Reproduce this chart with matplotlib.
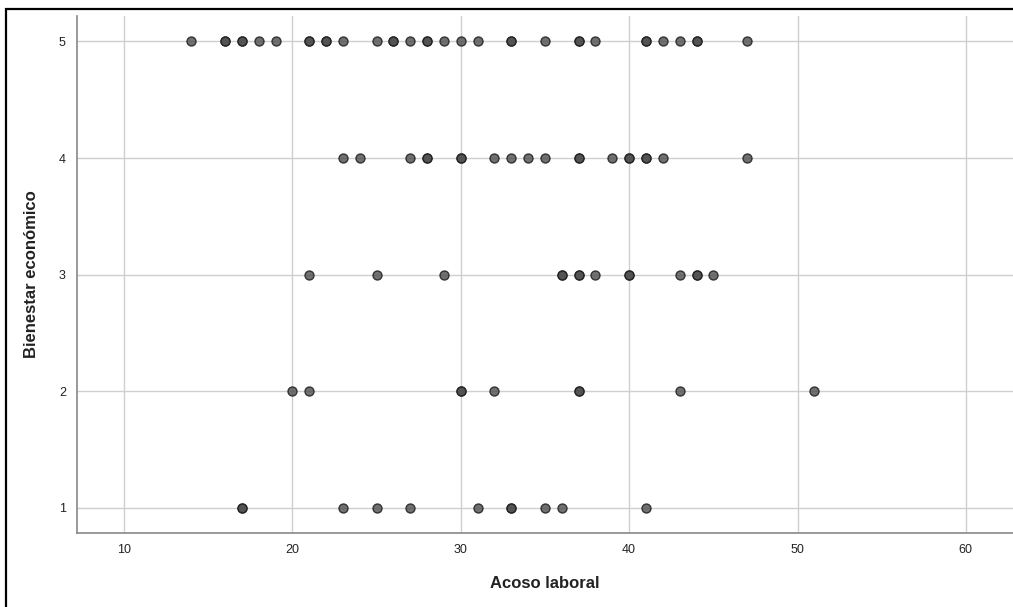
import matplotlib
matplotlib.use("Agg")
import matplotlib.pyplot as plt
from matplotlib.patches import Rectangle

plt.rcParams['font.family'] = ['Liberation Sans', 'DejaVu Sans']

# Acoso laboral values per level of Bienestar económico (repeats = overlapping cases)
acoso_5 = [14, 16, 16, 17, 17, 18, 19, 21, 21, 22, 22, 23, 25, 26, 26, 27, 28, 28, 29, 30,
           31, 33, 33, 35, 37, 37, 38, 41, 41, 42, 43, 44, 44, 47]
acoso_4 = [23, 24, 27, 28, 28, 30, 30, 32, 33, 34, 35, 37, 37, 39, 40, 40, 41, 41, 42, 47]
acoso_3 = [21, 25, 29, 36, 36, 37, 37, 38, 40, 40, 43, 44, 44, 45]
acoso_2 = [20, 21, 30, 30, 32, 37, 37, 43, 51]
acoso_1 = [17, 17, 23, 25, 27, 31, 33, 33, 35, 36, 41]

niveles = [5, 4, 3, 2, 1]
grupos = [acoso_5, acoso_4, acoso_3, acoso_2, acoso_1]

xticks = [10, 20, 30, 40, 50, 60]
yticks = [1, 2, 3, 4, 5]

fig = plt.figure(figsize=(10.13, 6.07), dpi=100)
ax = fig.add_axes([0.076, 0.122, 0.924, 0.852])

for nivel, vals in zip(niveles, grupos):
    ax.scatter(vals, [nivel] * len(vals), s=42, facecolor=(0.3, 0.3, 0.3, 0.8),
               edgecolor=(0.12, 0.12, 0.12, 0.85), linewidth=1.0, zorder=3)

ax.set_xlim(7.2, 62.8)
ax.set_ylim(0.785, 5.22)
ax.set_xticks(xticks)
ax.set_yticks(yticks)
ax.grid(True, color="#cfcfcf", linewidth=1.0, zorder=0)
ax.set_axisbelow(True)
ax.tick_params(length=0, labelsize=9, pad=8, colors="#222222")

for side in ["top", "right"]:
    ax.spines[side].set_visible(False)
for side in ["left", "bottom"]:
    ax.spines[side].set_color("#888888")
    ax.spines[side].set_linewidth(1.2)

ax.set_xlabel("Acoso laboral", fontsize=12, fontweight="bold", labelpad=14, color="#222222")
ax.set_ylabel("Bienestar económico", fontsize=12, fontweight="bold", labelpad=14, color="#222222")

# black frame around the chart (cut at right and bottom)
fig.patches.append(Rectangle((6 / 1013, -0.1), 1.2, 1.1 - 9 / 607,
                             transform=fig.transFigure, fill=False,
                             edgecolor="black", linewidth=1.6))

fig.savefig("out.png", dpi=100)
plt.close()
